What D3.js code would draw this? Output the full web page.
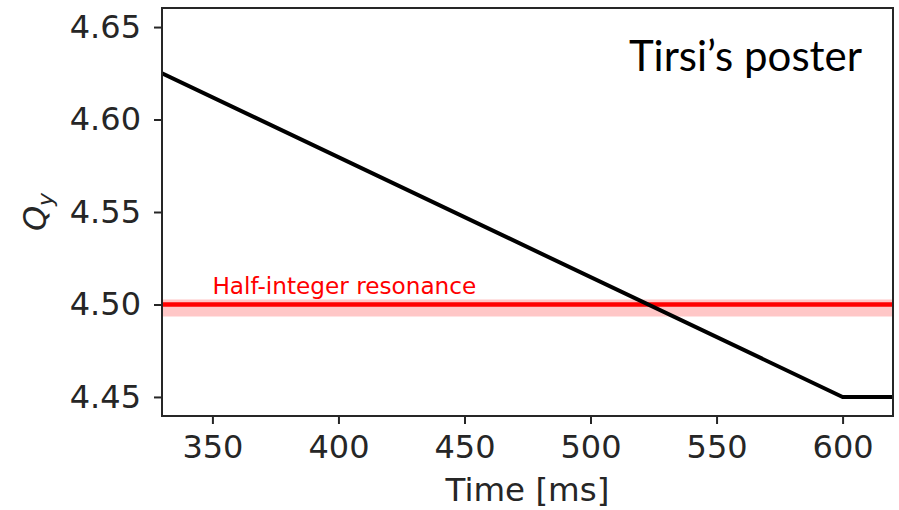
<!DOCTYPE html>
<html>
<head>
<meta charset="utf-8">
<script src="https://cdn.jsdelivr.net/npm/d3@7"></script>
<style>
  html, body { margin: 0; padding: 0; background: #fff; }
  svg { display: block; }
</style>
</head>
<body>
<svg id="chart" width="899" height="510"></svg>
<script>
// Tune Q_y versus time during the ramp
const timeMs = [330, 600, 620];
const qy = [4.625, 4.45, 4.45];

// Half-integer resonance line and its stop band
const resonanceQ = 4.5;
const resonanceBand = [4.4935, 4.5027];
const resonanceLabel = "Half-integer resonance";

const xTicks = [350, 400, 450, 500, 550, 600];
const yTicks = [4.45, 4.50, 4.55, 4.60, 4.65];
const xDomain = [330, 620];
const yDomain = [4.4397, 4.6603];

const margin = { left: 162, right: 6, top: 8, bottom: 94 };
const W = 899, H = 510;

const svg = d3.select("#chart");
const x = d3.scaleLinear().domain(xDomain).range([margin.left, W - margin.right]);
const y = d3.scaleLinear().domain(yDomain).range([H - margin.bottom, margin.top]);

const font = "'DejaVu Sans', sans-serif";
const ink = "#262626";

const plot = svg.append("g");
const clipId = "plot-clip";
svg.append("clipPath").attr("id", clipId)
  .append("rect")
  .attr("x", x(xDomain[0])).attr("y", y(yDomain[1]))
  .attr("width", x(xDomain[1]) - x(xDomain[0]))
  .attr("height", y(yDomain[0]) - y(yDomain[1]));

const inner = plot.append("g").attr("clip-path", `url(#${clipId})`);

// Stop band
inner.append("rect")
  .attr("x", x(xDomain[0]))
  .attr("width", x(xDomain[1]) - x(xDomain[0]))
  .attr("y", y(resonanceBand[1]))
  .attr("height", y(resonanceBand[0]) - y(resonanceBand[1]))
  .attr("fill", "#ff0000").attr("fill-opacity", 0.22);

// Resonance line
inner.append("line")
  .attr("x1", x(xDomain[0])).attr("x2", x(xDomain[1]))
  .attr("y1", y(resonanceQ)).attr("y2", y(resonanceQ))
  .attr("stroke", "#ff0000").attr("stroke-width", 4.5);

// Tune curve
inner.append("path")
  .datum(timeMs.map((t, i) => [t, qy[i]]))
  .attr("d", d3.line().x(d => x(d[0])).y(d => y(d[1])))
  .attr("fill", "none").attr("stroke", "#000").attr("stroke-width", 4)
  .attr("stroke-linejoin", "round");

// Resonance label
svg.append("text")
  .attr("x", x(350)).attr("y", y(resonanceQ) - 10)
  .attr("fill", "#ff0000")
  .attr("font-family", font).attr("font-size", 23.2)
  .text(resonanceLabel);

// Axes
const xAxis = d3.axisBottom(x).tickValues(xTicks).tickFormat(d3.format("d"))
  .tickSize(8).tickPadding(11);
const yAxis = d3.axisLeft(y).tickValues(yTicks).tickFormat(d3.format(".2f"))
  .tickSize(8).tickPadding(13);

const gx = svg.append("g").attr("transform", `translate(0,${H - margin.bottom})`).call(xAxis);
const gy = svg.append("g").attr("transform", `translate(${margin.left},0)`).call(yAxis);
[gx, gy].forEach(g => {
  g.select(".domain").remove();
  g.selectAll(".tick line").attr("stroke", ink).attr("stroke-width", 2);
  g.selectAll(".tick text").attr("fill", ink)
    .attr("font-family", font).attr("font-size", 32);
});

// Frame
svg.append("rect")
  .attr("x", x(xDomain[0])).attr("y", y(yDomain[1]))
  .attr("width", x(xDomain[1]) - x(xDomain[0]))
  .attr("height", y(yDomain[0]) - y(yDomain[1]))
  .attr("fill", "none").attr("stroke", ink).attr("stroke-width", 2);

// Axis titles
svg.append("text")
  .attr("x", (x(xDomain[0]) + x(xDomain[1])) / 2).attr("y", 501)
  .attr("text-anchor", "middle").attr("fill", ink)
  .attr("font-family", font).attr("font-size", 32.5)
  .text("Time [ms]");

const yl = svg.append("text")
  .attr("transform", `translate(46,${(y(yDomain[0]) + y(yDomain[1])) / 2}) rotate(-90)`)
  .attr("text-anchor", "middle").attr("fill", ink)
  .attr("font-family", font).attr("font-size", 32);
yl.append("tspan").attr("font-style", "italic").text("Q");
yl.append("tspan").attr("font-style", "italic").attr("font-size", 22).attr("dy", 7).text("y");

// Annotation
svg.append("text")
  .attr("x", 862).attr("y", 71)
  .attr("text-anchor", "end").attr("fill", "#000")
  .attr("font-family", "Lato, 'Open Sans', sans-serif").attr("font-size", 42)
  .text("Tirsi\u2019s poster");
</script>
</body>
</html>
